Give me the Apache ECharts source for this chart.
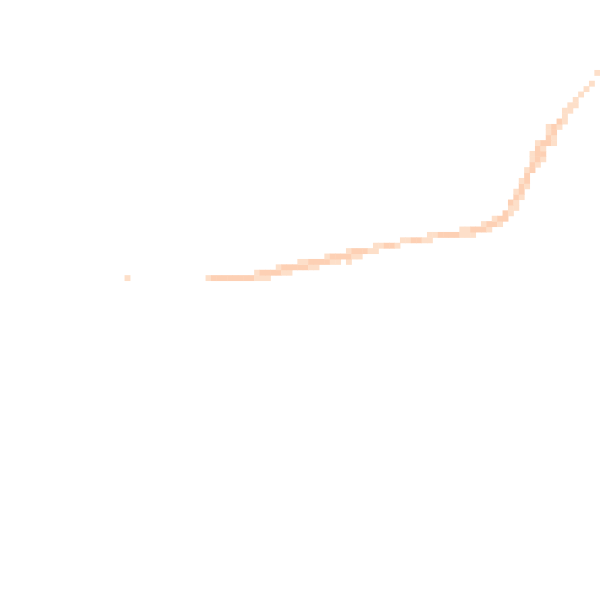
<!DOCTYPE html>
<html>
<head>
<meta charset="utf-8">
<script src="https://cdn.jsdelivr.net/npm/echarts@6/dist/echarts.min.js"></script>
<style>html,body{margin:0;padding:0;background:#fff;}#chart{width:600px;height:600px;}</style>
</head>
<body>
<div id="chart"></div>
<script>
// Bin indices (100 x 100 grid); row index counted from the top
const binCount = 100;
const rowIdx = [
  51,51,51,51,51,51,51,51,51,51,51,51,51,
  50,50,50,50,50,50,50,
  49,49,49,49,49,49,49,49,
  48,48,48,48,48,48,48,48,48,
  47,47,47,47,47,47,47,
  46,46,46,46,46,46,
  45,45,45,45,45,
  44,44,44,44,44,44,
  43,43,43,43,43,43,43,43,43,
  42,42,42,42,42,42,
  41,41,41,41,
  40,40,40,
  39,39,
  38,38,
  37,37,
  36,36,
  35,35,
  34,34,
  33,33,
  32,
  31,31,
  30,30,
  29,29,29,
  28,28,28,
  27,27,
  26,26,26,26,
  25,25,
  24,24,
  23,23,23,
  22,22,
  21,
  20,20,
  19,19,
  18,
  17,
  16,
  15,
  13
];
const colIdx = [
  12,27,28,29,30,31,32,33,34,35,36,37,38,
  36,37,38,39,40,41,42,
  40,41,42,43,44,45,46,47,
  44,45,46,47,48,49,50,51,53,
  49,50,51,52,53,54,55,
  53,54,55,56,57,58,
  58,59,60,61,62,
  63,64,65,66,67,68,
  68,69,70,71,72,73,74,75,76,
  74,75,76,77,78,79,
  78,79,80,81,
  80,81,82,
  82,83,
  83,84,
  83,84,
  84,85,
  84,85,
  85,86,
  85,86,
  86,
  86,87,
  87,88,
  87,88,89,
  87,88,89,
  88,89,
  88,89,90,91,
  90,91,
  90,91,
  90,91,92,
  92,93,
  93,
  93,94,
  94,95,
  95,
  96,
  97,
  98,
  99
];
const counts = [
  1,1,2,2,2,2,2,2,2,2,1,1,1,
  1,2,2,2,2,1,1,
  1,2,2,2,2,2,1,1,
  1,1,2,2,2,2,1,1,1,
  1,2,2,2,2,1,1,
  1,2,2,2,1,1,
  1,1,2,2,1,
  1,1,2,2,1,1,
  1,1,2,2,2,2,1,1,1,
  1,1,2,2,2,1,
  1,2,2,1,
  1,2,2,
  2,1,
  1,1,
  2,1,
  2,1,
  1,2,
  2,1,
  1,2,
  2,
  1,2,
  2,1,
  1,2,1,
  1,2,2,
  2,1,
  1,2,2,1,
  2,1,
  1,2,
  1,2,1,
  2,1,
  1,
  1,1,
  1,1,
  1,
  1,
  1,
  1,
  1
];

const xCats = Array.from({length: binCount}, (_, i) => String(i));
const yCats = Array.from({length: binCount}, (_, i) => String(i));
const data = rowIdx.map((r, i) => [colIdx[i], r, counts[i]]);

const chart = echarts.init(document.getElementById('chart'), null, {renderer: 'canvas'});
chart.setOption({
  animation: false,
  backgroundColor: '#ffffff',
  grid: {left: 60, right: 0, top: 0, bottom: 60, containLabel: false},
  xAxis: {type: 'category', data: xCats, show: false, boundaryGap: true},
  yAxis: {type: 'category', data: yCats, show: false, inverse: true, boundaryGap: true},
  visualMap: {
    show: false,
    type: 'piecewise',
    dimension: 2,
    pieces: [
      {value: 1, color: '#fddfc9'},
      {value: 2, color: '#fdd0b4'}
    ]
  },
  series: [{
    type: 'heatmap',
    data: data,
    itemStyle: {borderWidth: 0},
    emphasis: {disabled: true}
  }]
});
</script>
</body>
</html>
